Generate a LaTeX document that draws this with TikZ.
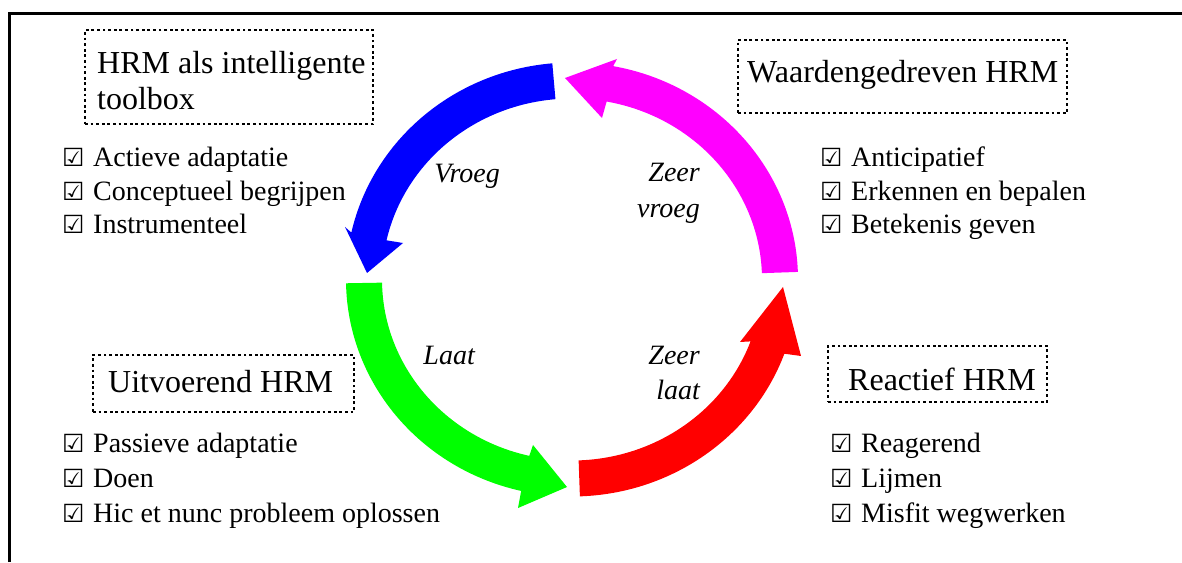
\documentclass[tikz,border=0pt]{standalone}
\usepackage{fontspec}
\setmainfont{Liberation Serif}
\newfontfamily\dejavu{DejaVu Sans}
\newcommand{\cbox}{\makebox[31pt][l]{\dejavu\bfseries\fontsize{25}{25}\selectfont ☑}}
\definecolor{arrblue}{RGB}{0,0,255}
\definecolor{arrmag}{RGB}{255,0,255}
\definecolor{arrgreen}{RGB}{0,255,0}
\definecolor{arrred}{RGB}{255,0,0}
\begin{document}
\begin{tikzpicture}[x=1pt,y=1pt,
  tbox/.style={draw, line width=2.8pt, dash pattern=on 2.8pt off 2.8pt, inner sep=0pt},
  title/.style={anchor=base west, inner sep=0pt, font=\fontsize{32}{36}\selectfont},
  item/.style={anchor=base west, inner sep=0pt, font=\fontsize{28}{34}\selectfont},
  lab/.style={anchor=base east, inner sep=0pt, font=\fontsize{28}{34}\selectfont\itshape},
  frame/.style={line width=3.5pt}]
\useasboundingbox (0,0) rectangle (1182,562);

% frame
\coordinate (fb) at (9.5,0);
\coordinate (fc) at (9.5,548.5);
\coordinate (fr) at (1182,548.5);
\draw[frame] (fb) -- (fc) -- (fr);

% title boxes
\node[tbox, minimum width=288pt, minimum height=94pt] (box1) at (229,485) {};
\node[title] (t1a) at (97,488) {HRM als intelligente};
\node[title] (t1b) at (97,452) {toolbox};

\node[tbox, minimum width=329pt, minimum height=73pt] (box2) at (902.5,485.5) {};
\node[title] (t2) at (747,479) {Waardengedreven HRM};

\node[tbox, minimum width=261pt, minimum height=57pt] (box3) at (223.5,178.5) {};
\node[title] (t3) at (108,169) {Uitvoerend HRM};

\node[tbox, minimum width=219pt, minimum height=56pt] (box4) at (937.5,188) {};
\node[title] (t4) at (848,171) {Reactief HRM};

% lists
\node[item] (l1a) at (62,395) {\cbox Actieve adaptatie};
\node[item] (l1b) at (62,361) {\cbox Conceptueel begrijpen};
\node[item] (l1c) at (62,328) {\cbox Instrumenteel};

\node[item] (l2a) at (820,395) {\cbox Anticipatief};
\node[item] (l2b) at (820,361) {\cbox Erkennen en bepalen};
\node[item] (l2c) at (820,328) {\cbox Betekenis geven};

\node[item] (l3a) at (62,109) {\cbox Passieve adaptatie};
\node[item] (l3b) at (62,75) {\cbox Doen};
\node[item] (l3c) at (62,40) {\cbox Hic et nunc probleem oplossen};

\node[item] (l4a) at (830,109) {\cbox Reagerend};
\node[item] (l4b) at (830,75) {\cbox Lijmen};
\node[item] (l4c) at (830,40) {\cbox Misfit wegwerken};

% cycle arrows
\coordinate (C) at (572,282.5);
\begin{scope}[shift={(C)}]
\fill[arrblue] (95:226 and 217) arc[start angle=95, end angle=167.5, x radius=226, y radius=217]
  -- (-227,52.5) -- (-205,6.5) -- (-169,36.5)
  -- (167.5:190 and 181) arc[start angle=167.5, end angle=95, x radius=190, y radius=181] -- cycle;
\fill[arrmag] (2:226 and 217) arc[start angle=2, end angle=79.5, x radius=226, y radius=217]
  -- (45,220.5) -- (-7,201.5) -- (30,161.5)
  -- (79.5:190 and 181) arc[start angle=79.5, end angle=2, x radius=190, y radius=181] -- cycle;
\fill[arrgreen] (181:226 and 217) arc[start angle=181, end angle=257, x radius=226, y radius=217]
  -- (-54,-228.5) -- (-5,-207.5) -- (-39,-165.5)
  -- (257:190 and 181) arc[start angle=257, end angle=181, x radius=190, y radius=181] -- cycle;
\fill[arrred] (-88:226 and 217) arc[start angle=-88, end angle=-20, x radius=226, y radius=217]
  -- (229,-76.5) -- (211,-7.5) -- (168,-62.5)
  -- (-20:190 and 181) arc[start angle=-20, end angle=-88, x radius=190, y radius=181] -- cycle;
\end{scope}

% labels
\node[lab] (v1) at (500,379) {Vroeg};
\node[lab] (zv1) at (700,380) {Zeer};
\node[lab] (zv2) at (700,344) {vroeg};
\node[lab] (la) at (475,197) {Laat};
\node[lab] (zl1) at (700,197) {Zeer};
\node[lab] (zl2) at (700,162) {laat};
\end{tikzpicture}
\end{document}
